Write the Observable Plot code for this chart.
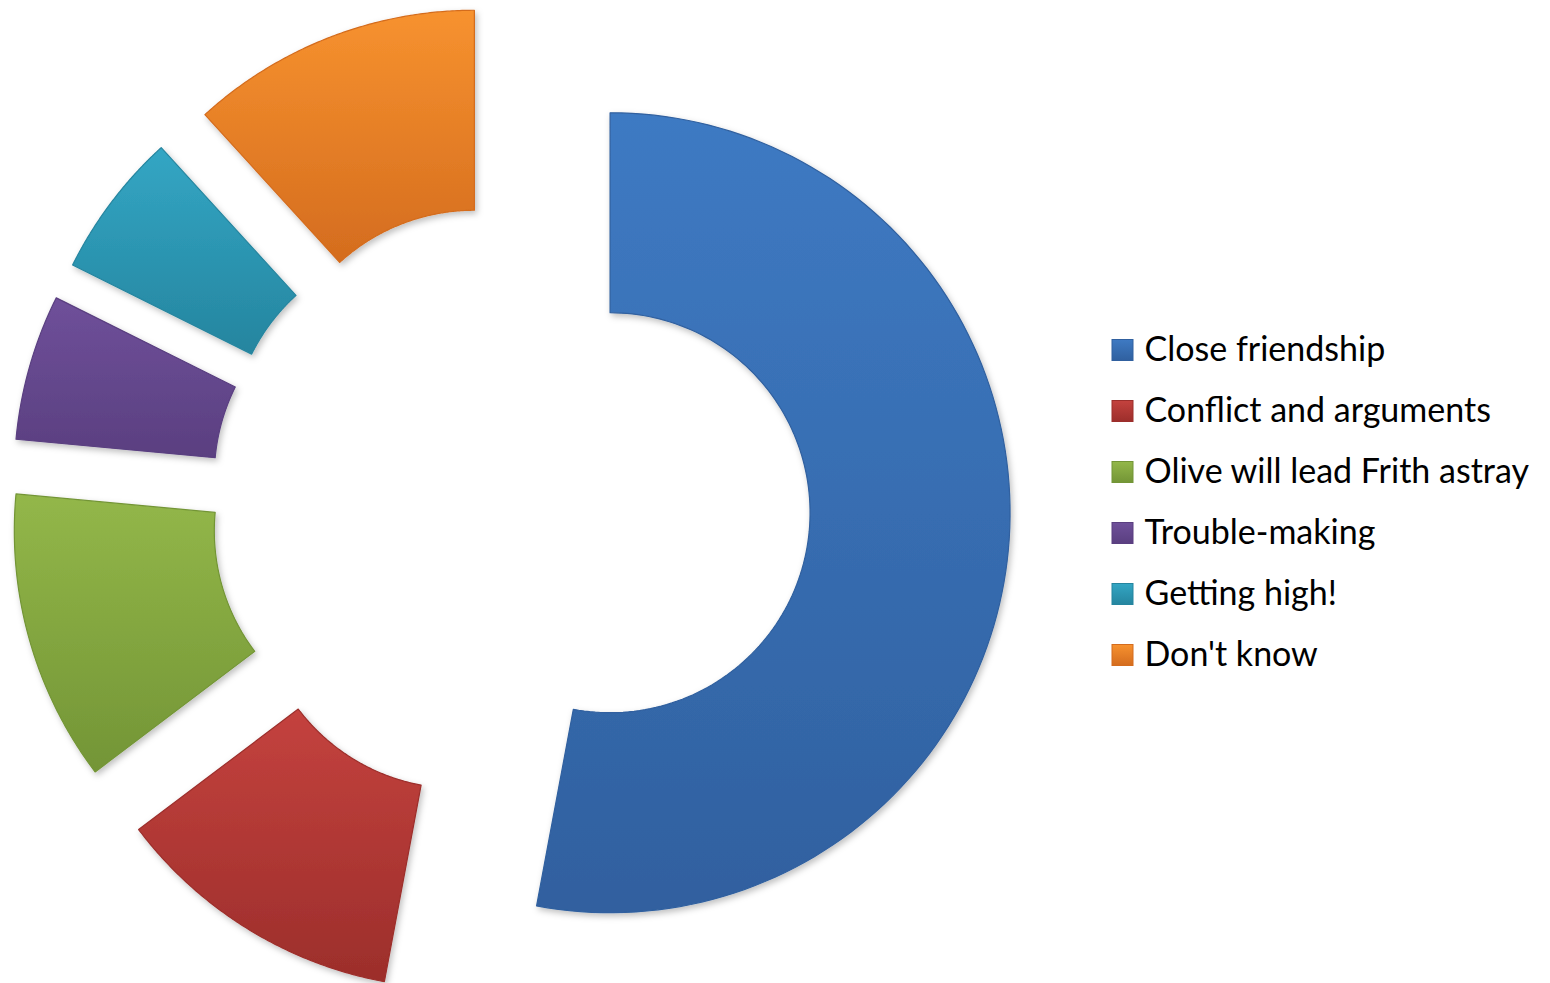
<!DOCTYPE html>
<html><head><meta charset="utf-8">
<script src="https://cdn.jsdelivr.net/npm/d3@7"></script>
<script src="https://cdn.jsdelivr.net/npm/@observablehq/plot@0.6"></script>
<style>body{margin:0;background:#fff;} svg{display:block;}</style>
</head><body><div id="chart"></div>
<script>
const categories = ["Close friendship", "Conflict and arguments", "Olive will lead Frith astray", "Trouble-making", "Getting high!", "Don't know"];
const values = [9, 2, 2, 1, 1, 2];
const colorsTop = ["#3e7ac3", "#c4423e", "#93b749", "#6f509a", "#33a6c4", "#f7922f"];
const colorsBottom = ["#30609f", "#9c2e2b", "#739536", "#5a3f80", "#25859f", "#d46c1e"];

const W = 1550, H = 983;
const geom = {cx: 510, cy: 503, outer: 400, inner: 200, explode: 100};
const legendGeom = {x: 1112, size: 21, gap: 11, y0: 350, step: 61, fontSize: 34};

const total = d3.sum(values);
let acc = 0;
const slices = values.map((v, i) => {
  const a0 = acc / total * 2 * Math.PI; acc += v;
  const a1 = acc / total * 2 * Math.PI;
  return {i, a0, a1, mid: (a0 + a1) / 2};
});

function slicePoints(s) {
  const ox = geom.cx + geom.explode * Math.sin(s.mid);
  const oy = geom.cy - geom.explode * Math.cos(s.mid);
  const n = 120, pts = [];
  for (let k = 0; k <= n; k++) {
    const a = s.a0 + (s.a1 - s.a0) * k / n;
    pts.push({x: ox + geom.outer * Math.sin(a), y: oy - geom.outer * Math.cos(a)});
  }
  for (let k = n; k >= 0; k--) {
    const a = s.a0 + (s.a1 - s.a0) * k / n;
    pts.push({x: ox + geom.inner * Math.sin(a), y: oy - geom.inner * Math.cos(a)});
  }
  pts.push(pts[0]);
  return pts;
}

const legendRows = categories.map((c, i) => ({
  i, label: c,
  x1: legendGeom.x, x2: legendGeom.x + legendGeom.size,
  yc: legendGeom.y0 + legendGeom.step * i,
  y1: legendGeom.y0 + legendGeom.step * i - legendGeom.size / 2,
  y2: legendGeom.y0 + legendGeom.step * i + legendGeom.size / 2,
  tx: legendGeom.x + legendGeom.size + legendGeom.gap
}));

const marks = slices.map(s => Plot.line(slicePoints(s), {
  x: "x", y: "y", curve: "linear",
  fill: `url(#g${s.i})`, stroke: colorsBottom[s.i], strokeWidth: 1.2
}));
marks.push(Plot.rect(legendRows, {x1: "x1", x2: "x2", y1: "y1", y2: "y2", fill: d => `url(#g${d.i})`, stroke: d => colorsBottom[d.i], strokeWidth: 1}));
marks.push(Plot.text(legendRows, {x: "tx", y: "yc", text: "label", textAnchor: "start", fontSize: legendGeom.fontSize, fill: "#000", lineAnchor: "middle"}));

const svg = Plot.plot({
  width: W, height: H, margin: 0,
  style: {fontFamily: "Lato, 'Open Sans', sans-serif", background: "#fff"},
  x: {domain: [0, W], range: [0, W], axis: null},
  y: {domain: [0, H], range: [0, H], axis: null},
  color: {type: "identity"},
  marks
});

const ns = "http://www.w3.org/2000/svg";
let defs = `<filter id="shadow" x="-10%" y="-10%" width="130%" height="130%"><feDropShadow dx="2" dy="3" stdDeviation="3" flood-color="#000" flood-opacity="0.25"/></filter>`;
colorsTop.forEach((c, i) => {
  defs += `<linearGradient id="g${i}" x1="0" y1="0" x2="0" y2="1"><stop offset="0" stop-color="${c}"/><stop offset="1" stop-color="${colorsBottom[i]}"/></linearGradient>`;
});
const d = document.createElementNS(ns, "defs");
d.innerHTML = defs;
svg.insertBefore(d, svg.firstChild);
svg.querySelectorAll('g[aria-label="line"] path').forEach(p => p.setAttribute("filter", "url(#shadow)"));
document.getElementById("chart").appendChild(svg);
</script>
</body></html>
